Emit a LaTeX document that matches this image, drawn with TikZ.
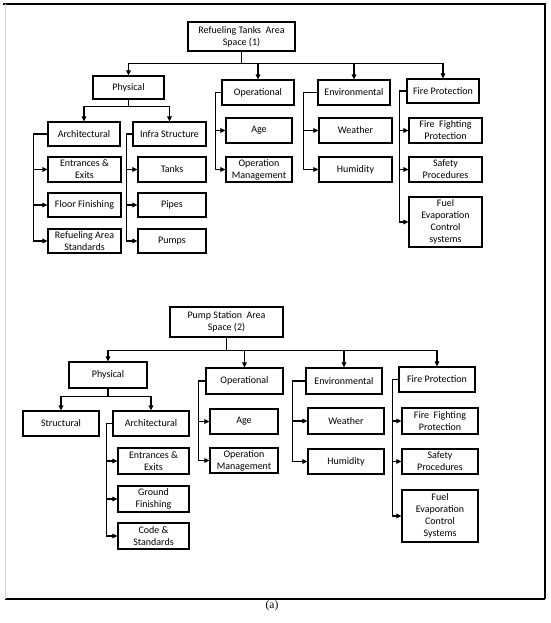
\documentclass[tikz,border=0pt]{standalone}
\usepackage{fontspec}
\setmainfont{Carlito}
\newfontfamily\capfont{Liberation Serif}
\usetikzlibrary{arrows.meta}
\tikzstyle{block} = [rectangle, draw=black, line width=1.2pt, minimum width=72pt, minimum height=25pt, inner sep=0pt, align=center, font=\fontsize{10}{12}\selectfont]
\tikzstyle{arrow} = [line width=1.05pt,->,>={Triangle[length=5pt,width=4.6pt]}]
\tikzstyle{frame} = [line width=1.1pt]

\begin{document}
\begin{tikzpicture}[x=1pt,y=-1pt]
\useasboundingbox (0,0) rectangle (550,623);
\draw [frame] (3,4) -- (545,4) -- (545,599);
\draw [line width=1.5pt] (5,599) -- (545,599);
\draw [gray!35, line width=0.8pt] (5,4) -- (5,599);

% space (1)
\node (sp1) [block, minimum width=107pt, minimum height=29pt] at (241.5,36.5) {Refueling Tanks~ Area\\Space (1)};
\node (phys1) [block, minimum width=71pt, minimum height=23pt] at (128.5,87.5) {Physical};
\node (oper1) [block] at (258,92.5) {Operational};
\node (env1) [block] at (354,92.5) {Environmental};
\node (fire1) [block, minimum height=24pt] at (443,91) {Fire Protection};
\node (arch1) [block, minimum height=24pt] at (84,134) {Architectural};
\node (infra1) [block, minimum width=73pt, minimum height=24pt] at (169.5,134) {Infra Structure};
\node (ent1) [block, minimum width=73pt] at (84.5,169.5) {Entrances \&\\Exits};
\node (floor1) [block, minimum width=73pt, minimum height=24pt] at (84.5,205) {Floor Finishing};
\node (std1) [block, minimum width=73pt, minimum height=24pt] at (84.5,241) {Refueling Area\\Standards};
\node (tank1) [block, minimum width=68pt] at (172,169.5) {Tanks};
\node (pipe1) [block, minimum width=68pt, minimum height=24pt] at (172,205) {Pipes};
\node (pump1) [block, minimum width=68pt, minimum height=24pt] at (172,241) {Pumps};
\node (age1) [block, minimum width=66pt] at (259,130.5) {Age};
\node (opm1) [block, minimum width=66pt] at (259,169.5) {Operation\\Management};
\node (wea1) [block, minimum width=73pt] at (355.5,130.5) {Weather};
\node (hum1) [block, minimum width=73pt] at (355.5,169.5) {Humidity};
\node (ffp1) [block, minimum width=73pt] at (445.5,130.5) {Fire~ Fighting\\Protection};
\node (saf1) [block, minimum width=73pt] at (445.5,169.5) {Safety\\Procedures};
\node (fuel1) [block, minimum width=73pt, minimum height=50pt] at (445.5,222) {Fuel\\Evaporation\\Control\\systems};

\draw [arrow] (sp1.south) -- ++(0,12) -| (phys1);
\draw [arrow] (sp1.south) -- ++(0,12) -| (oper1);
\draw [arrow] (sp1.south) -- ++(0,12) -| (env1);
\draw [arrow] (sp1.south) -- ++(0,12) -| (fire1);
\draw [arrow] (phys1.south) -- ++(0,7) -| (arch1);
\draw [arrow] (phys1.south) -- ++(0,7) -| (infra1);
\draw [arrow] (arch1.west) -- ++(-14,0) |- (ent1);
\draw [arrow] (arch1.west) -- ++(-14,0) |- (floor1);
\draw [arrow] (arch1.west) -- ++(-14,0) |- (std1);
\draw [arrow] (infra1.west) -- ++(-6,0) |- (tank1);
\draw [arrow] (infra1.west) -- ++(-6,0) |- (pipe1);
\draw [arrow] (infra1.west) -- ++(-6,0) |- (pump1);
\draw [arrow] (oper1.west) -- ++(-6,0) |- (age1);
\draw [arrow] (oper1.west) -- ++(-6,0) |- (opm1);
\draw [arrow] (env1.west) -- ++(-14,0) |- (wea1);
\draw [arrow] (env1.west) -- ++(-14,0) |- (hum1);
\draw [arrow] (fire1.west) -- ++(-7,0) |- (ffp1);
\draw [arrow] (fire1.west) -- ++(-7,0) |- (saf1);
\draw [arrow] (fire1.west) -- ++(-7,0) |- (fuel1);

% space (2)
\node (sp2) [block, minimum width=113pt, minimum height=30pt] at (226.5,322) {Pump Station~ Area\\Space (2)};
\node (phys2) [block, minimum width=78pt, minimum height=26pt] at (108,375) {Physical};
\node (oper2) [block, minimum width=77pt, minimum height=26pt] at (244.5,381) {Operational};
\node (env2) [block, minimum width=76pt, minimum height=26pt] at (344,381) {Environmental};
\node (fire2) [block, minimum width=76pt] at (437,379.5) {Fire Protection};
\node (str2) [block, minimum width=76pt] at (61,423.5) {Structural};
\node (arch2) [block, minimum width=76pt] at (151,423.5) {Architectural};
\node (ent2) [block, minimum width=71pt, minimum height=26pt] at (153.5,461) {Entrances \&\\Exits};
\node (gro2) [block, minimum width=71pt, minimum height=26pt] at (153.5,499) {Ground\\Finishing};
\node (code2) [block, minimum width=71pt, minimum height=26pt] at (153.5,536) {Code \&\\Standards};
\node (age2) [block, minimum width=68pt] at (244,421.5) {Age};
\node (opm2) [block, minimum width=68pt] at (244,460.5) {Operation\\Management};
\node (wea2) [block, minimum width=76pt, minimum height=26pt] at (346,421) {Weather};
\node (hum2) [block, minimum width=76pt] at (346,461.5) {Humidity};
\node (ffp2) [block, minimum width=76pt, minimum height=26pt] at (440,421) {Fire~ Fighting\\Protection};
\node (saf2) [block, minimum width=76pt] at (440,461.5) {Safety\\Procedures};
\node (fuel2) [block, minimum width=76pt, minimum height=52pt] at (440,516) {Fuel\\Evaporation\\Control\\Systems};

\draw [arrow] (sp2.south) -- ++(0,13) -| (phys2);
\draw [arrow] (sp2.south) -- ++(0,13) -| (oper2);
\draw [arrow] (sp2.south) -- ++(0,13) -| (env2);
\draw [arrow] (sp2.south) -- ++(0,13) -| (fire2);
\draw [arrow] (phys2.south) -- ++(0,8) -| (str2);
\draw [arrow] (phys2.south) -- ++(0,8) -| (arch2);
\draw [arrow] (arch2.west) -- ++(-6,0) |- (ent2);
\draw [arrow] (arch2.west) -- ++(-6,0) |- (gro2);
\draw [arrow] (arch2.west) -- ++(-6,0) |- (code2);
\draw [arrow] (oper2.west) -- ++(-7,0) |- (age2);
\draw [arrow] (oper2.west) -- ++(-7,0) |- (opm2);
\draw [arrow] (env2.west) -- ++(-13,0) |- (wea2);
\draw [arrow] (env2.west) -- ++(-13,0) |- (hum2);
\draw [arrow] (fire2.west) -- ++(-6,0) |- (ffp2);
\draw [arrow] (fire2.west) -- ++(-6,0) |- (saf2);
\draw [arrow] (fire2.west) -- ++(-6,0) |- (fuel2);

\node (cap) at (272,606) {\capfont\fontsize{11.5}{13}\selectfont (a)};
\end{tikzpicture}
\end{document}
